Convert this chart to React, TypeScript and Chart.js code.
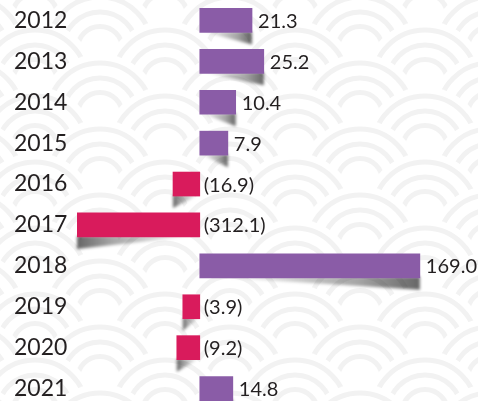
import React, { useEffect, useRef } from "react";
import { Chart, registerables } from "chart.js";

Chart.register(...registerables);

// Categories (years)
const years = ["2012", "2013", "2014", "2015", "2016", "2017", "2018", "2019", "2020", "2021"];
// Values printed next to each bar
const values = [21.3, 25.2, 10.4, 7.9, -16.9, -312.1, 169.0, -3.9, -9.2, 14.8];
// Bar lengths as drawn in the infographic (in axis units)
const barLengths = [40, 49, 27.5, 21.5, -20.5, -94, 168.5, -13, -17.6, 25.3];

const PURPLE = "#8a5ca7";
const PINK = "#d91b5c";
const TEXT = "#231f20";
const FONT = "Lato, 'Open Sans', sans-serif";

const backgroundPlugin = {
  id: "seigaiha",
  beforeDraw(chart: any) {
    const ctx = chart.ctx as CanvasRenderingContext2D;
    const w = chart.width;
    const h = chart.height;
    ctx.save();
    ctx.fillStyle = "#ffffff";
    ctx.fillRect(0, 0, w, h);
    const hp = 130;
    const vs = 33;
    const y0 = -17;
    const x0 = -30;
    ctx.strokeStyle = "#f2f2f2";
    ctx.lineWidth = 5;
    for (let j = 0; j < 16; j++) {
      const cy = y0 + j * vs;
      const off = j % 2 === 0 ? 0 : hp / 2;
      for (let k = -1; k < 6; k++) {
        const cx = x0 + off + k * hp;
        ctx.beginPath();
        ctx.arc(cx, cy, 61, 0, Math.PI * 2);
        ctx.fillStyle = "#ffffff";
        ctx.fill();
        for (const r of [52, 37, 22.5]) {
          ctx.beginPath();
          ctx.arc(cx, cy, r, 0, Math.PI * 2);
          ctx.stroke();
        }
      }
    }
    ctx.restore();
  },
};

const shadowPlugin = {
  id: "barShadows",
  beforeDatasetsDraw(chart: any) {
    const ctx = chart.ctx as CanvasRenderingContext2D;
    const meta = chart.getDatasetMeta(0);
    ctx.save();
    ctx.filter = "blur(1.5px)";
    meta.data.forEach((bar: any) => {
      const p = bar.getProps(["x", "y", "base", "height"], true);
      const bottom = p.y + p.height / 2;
      const outer = p.x;
      const base = p.base;
      const len = outer - base;
      const inner = base + len * 0.05;
      const depth = 12;
      const g = ctx.createLinearGradient(inner, 0, outer, 0);
      g.addColorStop(0, "rgba(0,0,0,0)");
      g.addColorStop(0.7, "rgba(0,0,0,0.35)");
      g.addColorStop(1, "rgba(0,0,0,0.6)");
      ctx.fillStyle = g;
      ctx.beginPath();
      ctx.moveTo(inner, bottom - 1);
      ctx.lineTo(outer, bottom - 1);
      ctx.lineTo(outer, bottom + depth);
      ctx.closePath();
      ctx.fill();
    });
    ctx.restore();
  },
};

const labelPlugin = {
  id: "valueLabels",
  afterDatasetsDraw(chart: any) {
    const ctx = chart.ctx as CanvasRenderingContext2D;
    const meta = chart.getDatasetMeta(0);
    const zero = chart.scales.x.getPixelForValue(0);
    ctx.save();
    ctx.font = `20px ${FONT}`;
    ctx.fillStyle = TEXT;
    ctx.textAlign = "left";
    ctx.textBaseline = "middle";
    meta.data.forEach((bar: any, i: number) => {
      const v = values[i];
      const p = bar.getProps(["x", "y"], true);
      const text = v >= 0 ? v.toFixed(1) : `(${Math.abs(v).toFixed(1)})`;
      const x = v >= 0 ? p.x + 6 : zero + 4;
      ctx.fillText(text, x, p.y + 1);
    });
    ctx.restore();
  },
};

export default function App() {
  const ref = useRef<HTMLCanvasElement | null>(null);

  useEffect(() => {
    document.body.style.margin = "0";
    document.body.style.overflow = "hidden";
    if (!ref.current) return;
    const chart = new Chart(ref.current, {
      type: "bar",
      data: {
        labels: years,
        datasets: [
          {
            data: barLengths,
            backgroundColor: values.map((v) => (v >= 0 ? PURPLE : PINK)),
            borderWidth: 0,
            barThickness: 24,
          },
        ],
      },
      options: {
        indexAxis: "y",
        responsive: false,
        animation: false,
        devicePixelRatio: 1,
        layout: { padding: { left: 14, right: 0, top: 0, bottom: 0 } },
        plugins: {
          legend: { display: false },
          tooltip: { enabled: false },
        },
        scales: {
          x: {
            display: false,
            min: -94,
            max: 213,
          },
          y: {
            grid: { display: false },
            border: { display: false },
            afterFit: (scale: any) => {
              scale.width = 63;
              scale.paddingTop = 0;
              scale.paddingBottom = 0;
            },
            ticks: {
              crossAlign: "far",
              padding: 0,
              color: TEXT,
              font: { family: FONT, size: 23 },
            },
          },
        },
      },
      plugins: [backgroundPlugin, shadowPlugin, labelPlugin],
    });
    return () => chart.destroy();
  }, []);

  return (
    <div style={{ width: 478, height: 401, overflow: "hidden" }}>
      <canvas ref={ref} width={478} height={409} style={{ display: "block" }} />
    </div>
  );
}
